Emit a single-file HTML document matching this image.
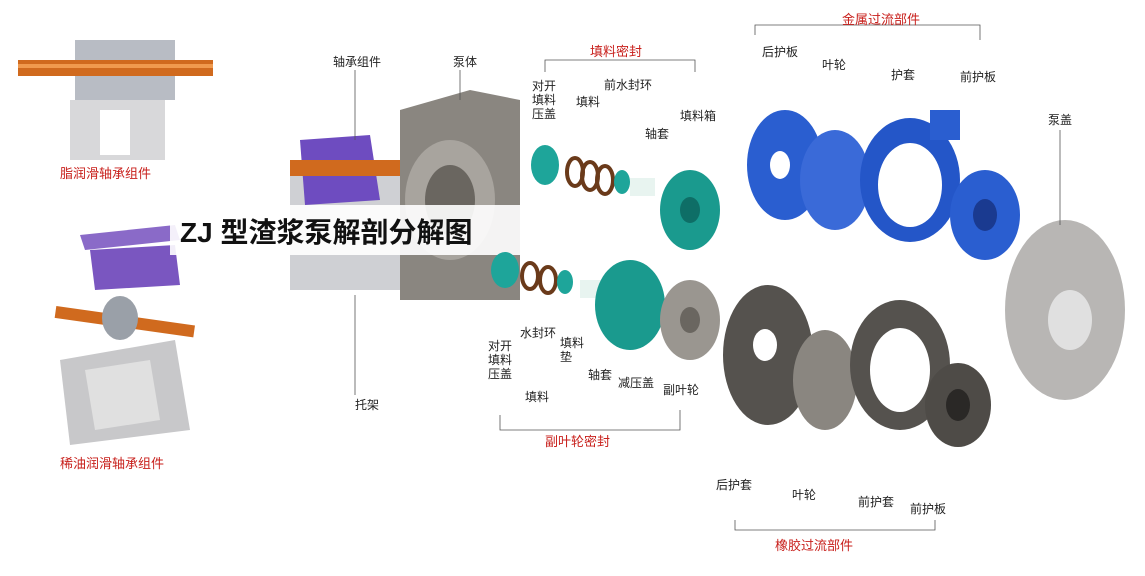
<!DOCTYPE html>
<html><head><meta charset="utf-8"><style>
html,body{margin:0;padding:0;background:#fff;}
svg{display:block}
text{font-family:"Liberation Sans","Noto Sans CJK SC",sans-serif;font-size:12px;fill:#222}
.r{fill:#c8201c;font-size:13px}
</style></head><body>
<svg width="1145" height="576" viewBox="0 0 1145 576" xmlns="http://www.w3.org/2000/svg">
<rect width="1145" height="576" fill="#fff"/>
<!-- top-left grease bearing assembly -->
<rect x="75" y="40" width="100" height="60" fill="#b8bcc4"/>
<rect x="70" y="100" width="95" height="60" fill="#d8d8da"/>
<rect x="100" y="110" width="30" height="45" fill="#fff"/>
<rect x="18" y="60" width="195" height="16" fill="#d06a1e"/>
<rect x="18" y="64" width="195" height="4" fill="#f09a4e"/>
<text class="r" x="60" y="178">脂润滑轴承组件</text>
<!-- bottom-left oil bearing assembly -->
<polygon points="80,235 175,225 180,240 85,250" fill="#8a6ac8"/>
<polygon points="90,250 175,245 180,285 95,290" fill="#7a56c0"/>
<rect x="55" y="315" width="140" height="12" fill="#d06a1e" transform="rotate(8 120 320)"/>
<ellipse cx="120" cy="318" rx="18" ry="22" fill="#9aa0a8"/>
<polygon points="60,360 175,340 190,430 70,445" fill="#c8c8ca"/>
<polygon points="85,370 150,360 160,420 95,430" fill="#e0e0e0"/>
<text class="r" x="60" y="468">稀油润滑轴承组件</text>
<!-- frame + pump body -->
<rect x="290" y="160" width="120" height="130" fill="#cfd0d4"/>
<polygon points="300,140 370,135 380,200 305,205" fill="#6e4cc0"/>
<rect x="290" y="160" width="150" height="16" fill="#d06a1e"/>
<polygon points="400,110 470,90 520,100 520,300 400,300" fill="#8a8680"/>
<ellipse cx="450" cy="200" rx="45" ry="60" fill="#a8a49e"/>
<ellipse cx="450" cy="200" rx="25" ry="35" fill="#6a6660"/>
<!-- title -->
<rect x="170" y="205" width="370" height="50" fill="#fff" opacity="0.9"/>
<text x="180" y="242" style="font-size:28px;font-weight:bold;fill:#111">ZJ 型渣浆泵解剖分解图</text>
<!-- teal parts -->
<ellipse cx="545" cy="165" rx="14" ry="20" fill="#1ea59a"/>
<g fill="none" stroke="#6a3a1a" stroke-width="4">
<ellipse cx="575" cy="172" rx="8" ry="14"/><ellipse cx="590" cy="176" rx="8" ry="14"/><ellipse cx="605" cy="180" rx="8" ry="14"/></g>
<ellipse cx="622" cy="182" rx="8" ry="12" fill="#1ea59a"/>
<rect x="630" y="178" width="25" height="18" fill="#e8f4f0"/>
<ellipse cx="690" cy="210" rx="30" ry="40" fill="#1a9a8e"/>
<ellipse cx="690" cy="210" rx="10" ry="13" fill="#0e6e66"/>
<ellipse cx="505" cy="270" rx="14" ry="18" fill="#1ea59a"/>
<g fill="none" stroke="#6a3a1a" stroke-width="4">
<ellipse cx="530" cy="276" rx="8" ry="13"/><ellipse cx="548" cy="280" rx="8" ry="13"/></g>
<ellipse cx="565" cy="282" rx="8" ry="12" fill="#1ea59a"/>
<rect x="580" y="280" width="25" height="18" fill="#e8f4f0"/>
<ellipse cx="630" cy="305" rx="35" ry="45" fill="#1a9a8e"/>
<ellipse cx="690" cy="320" rx="30" ry="40" fill="#9a9690"/>
<ellipse cx="690" cy="320" rx="10" ry="13" fill="#6a6660"/>
<!-- blue metal parts -->
<ellipse cx="785" cy="165" rx="38" ry="55" fill="#2a5ed0"/>
<ellipse cx="780" cy="165" rx="10" ry="14" fill="#fff"/>
<ellipse cx="835" cy="180" rx="35" ry="50" fill="#3a6ad8"/>
<ellipse cx="910" cy="180" rx="50" ry="62" fill="#2456c8"/>
<ellipse cx="910" cy="185" rx="32" ry="42" fill="#fff"/>
<rect x="930" y="110" width="30" height="30" fill="#2a5ed0"/>
<ellipse cx="985" cy="215" rx="35" ry="45" fill="#2a5ed0"/>
<ellipse cx="985" cy="215" rx="12" ry="16" fill="#1a3a90"/>
<!-- dark grey rubber parts -->
<ellipse cx="768" cy="355" rx="45" ry="70" fill="#55524e"/>
<ellipse cx="765" cy="345" rx="12" ry="16" fill="#fff"/>
<ellipse cx="825" cy="380" rx="32" ry="50" fill="#8a8680"/>
<ellipse cx="900" cy="365" rx="50" ry="65" fill="#55524e"/>
<ellipse cx="900" cy="370" rx="30" ry="42" fill="#fff"/>
<ellipse cx="958" cy="405" rx="33" ry="42" fill="#4e4b47"/>
<ellipse cx="958" cy="405" rx="12" ry="16" fill="#2a2826"/>
<!-- pump cover -->
<ellipse cx="1065" cy="310" rx="60" ry="90" fill="#b8b6b4"/>
<ellipse cx="1070" cy="320" rx="22" ry="30" fill="#e0e0e0"/>
<!-- leader lines -->
<g stroke="#555" stroke-width="0.8" fill="none">
<line x1="355" y1="70" x2="355" y2="140"/><line x1="460" y1="70" x2="460" y2="100"/>
<polyline points="545,72 545,60 695,60 695,72"/><polyline points="755,35 755,25 980,25 980,40"/>
<line x1="355" y1="295" x2="355" y2="395"/>
<polyline points="500,415 500,430 680,430 680,410"/><polyline points="735,520 735,530 935,530 935,520"/>
<line x1="1060" y1="130" x2="1060" y2="225"/>
</g>
<!-- labels -->
<text x="333" y="66">轴承组件</text><text x="453" y="66">泵体</text><text x="355" y="409">托架</text>
<text class="r" x="590" y="56">填料密封</text>
<text x="532" y="90">对开</text><text x="532" y="104">填料</text><text x="532" y="118">压盖</text>
<text x="576" y="106">填料</text><text x="604" y="89">前水封环</text><text x="645" y="138">轴套</text><text x="680" y="120">填料箱</text>
<text class="r" x="842" y="24">金属过流部件</text>
<text x="762" y="56">后护板</text><text x="822" y="69">叶轮</text><text x="891" y="79">护套</text><text x="960" y="81">前护板</text><text x="1048" y="124">泵盖</text>
<text x="488" y="350">对开</text><text x="488" y="364">填料</text><text x="488" y="378">压盖</text>
<text x="520" y="337">水封环</text><text x="525" y="401">填料</text>
<text x="560" y="347">填料</text><text x="560" y="361">垫</text>
<text x="588" y="379">轴套</text><text x="618" y="387">减压盖</text><text x="663" y="394">副叶轮</text>
<text class="r" x="545" y="446">副叶轮密封</text>
<text x="716" y="489">后护套</text><text x="792" y="499">叶轮</text><text x="858" y="506">前护套</text><text x="910" y="513">前护板</text>
<text class="r" x="775" y="550">橡胶过流部件</text>
</svg>
</body></html>
